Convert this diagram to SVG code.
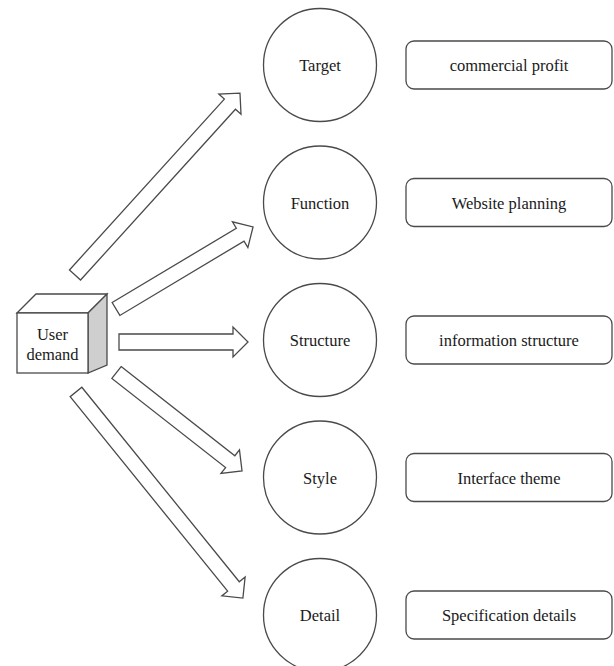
<svg xmlns="http://www.w3.org/2000/svg" width="614" height="666" viewBox="0 0 614 666">
<style>
.ln{fill:#fff;stroke:#4a4a4a;stroke-width:1.3;stroke-linejoin:miter}
.t{font-family:'Liberation Serif','DejaVu Serif',serif;font-size:16.5px;fill:#1a1a1a;text-anchor:middle}
</style>
<rect width="614" height="666" fill="#fff"/>
<g id="connectors">
<path class="ln" transform="translate(75,275) rotate(-47.8)" d="M0,-7.5 H230.6 V-15 L245.6,0 L230.6,15 V7.5 H0 Z"/>
<path class="ln" transform="translate(116,309) rotate(-30.9)" d="M0,-7.5 H144.7 V-15 L159.7,0 L144.7,15 V7.5 H0 Z"/>
<path class="ln" transform="translate(119,342)" d="M0,-8 H114 V-15 L129,0 L114,15 V8 H0 Z"/>
<path class="ln" transform="translate(116.5,372.5) rotate(38.1)" d="M0,-7.5 H144.5 V-15 L159.5,0 L144.5,15 V7.5 H0 Z"/>
<path class="ln" transform="translate(76,392) rotate(51)" d="M0,-7.5 H250.2 V-15 L265.2,0 L250.2,15 V7.5 H0 Z"/>
</g>
<g id="user-demand">
<path class="ln" d="M17,313 L36,294 L107,294 L88,313 Z"/>
<path class="ln" style="fill:#cfcfcf" d="M88,313 L107,294 L107,365 L88,373 Z"/>
<rect class="ln" x="17" y="313" width="71" height="60"/>
<text class="t" font-family="Liberation Serif, serif" x="52.5" y="340">User</text>
<text class="t" font-family="Liberation Serif, serif" x="52.5" y="360">demand</text>
</g>
<g id="target"><circle class="ln" cx="320" cy="65" r="56.5"/><text class="t" x="320" y="71">Target</text></g>
<g id="function"><circle class="ln" cx="320" cy="202.5" r="56.5"/><text class="t" x="320" y="208.5">Function</text></g>
<g id="structure"><circle class="ln" cx="320" cy="340" r="56.5"/><text class="t" x="320" y="346">Structure</text></g>
<g id="style"><circle class="ln" cx="320" cy="477.5" r="56.5"/><text class="t" x="320" y="483.5">Style</text></g>
<g id="detail"><circle class="ln" cx="320" cy="615" r="56.5"/><text class="t" x="320" y="621">Detail</text></g>
<g id="commercial-profit"><rect class="ln" x="406" y="41" width="206" height="48" rx="8"/><text class="t" x="509" y="71">commercial profit</text></g>
<g id="website-planning"><rect class="ln" x="406" y="178.5" width="206" height="48" rx="8"/><text class="t" x="509" y="208.5">Website planning</text></g>
<g id="information-structure"><rect class="ln" x="406" y="316" width="206" height="48" rx="8"/><text class="t" x="509" y="346">information structure</text></g>
<g id="interface-theme"><rect class="ln" x="406" y="453.5" width="206" height="48" rx="8"/><text class="t" x="509" y="483.5">Interface theme</text></g>
<g id="specification-details"><rect class="ln" x="406" y="591" width="206" height="48" rx="8"/><text class="t" x="509" y="621">Specification details</text></g>
</svg>
